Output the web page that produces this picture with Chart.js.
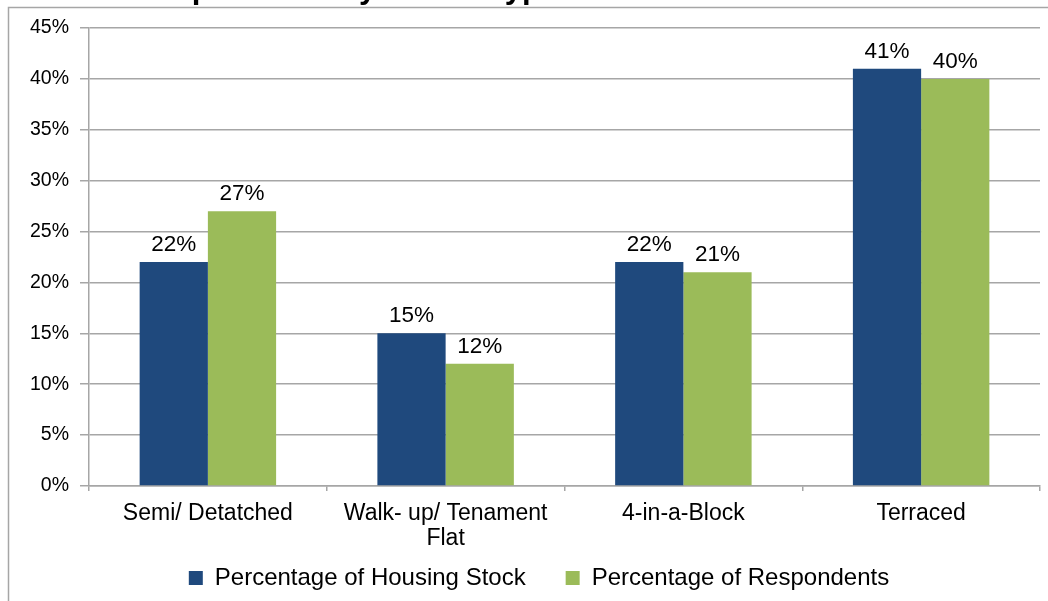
<!DOCTYPE html>
<html>
<head>
<meta charset="utf-8">
<script src="https://cdn.jsdelivr.net/npm/chart.js@4"></script>
<style>
  html, body { margin: 0; padding: 0; background: #fff; }
  #wrap { width: 1048px; height: 601px; position: relative; }
</style>
</head>
<body>
<div id="wrap"><canvas id="myChart" width="1048" height="601"></canvas></div>
<script>
var categories = ["Semi/ Detatched", ["Walk- up/ Tenament", "Flat"], "4-in-a-Block", "Terraced"];
var housingStock = [22, 15, 22, 41];
var respondents = [27, 12, 21, 40];
var seriesNames = ["Percentage of Housing Stock", "Percentage of Respondents"];
var titleText = "Respondents by House Type";

var gridGrey = '#a6a6a6';
var fontFamily = '"Liberation Sans", Arial, sans-serif';

// frame + cut-off title at the top
var framePlugin = {
  id: 'frame',
  beforeDraw: function(chart) {
    var c = chart.ctx;
    c.save();
    c.fillStyle = '#fff';
    c.fillRect(0, 0, chart.width, chart.height);
    c.strokeStyle = gridGrey;
    c.lineWidth = 1.5;
    c.beginPath();
    c.moveTo(chart.width, 7.5);
    c.lineTo(8.5, 7.5);
    c.lineTo(8.5, chart.height);
    c.stroke();
    c.fillStyle = '#000';
    c.font = 'bold 31px ' + fontFamily;
    c.textBaseline = 'alphabetic';
    c.fillText(titleText, 135, -2);
    c.restore();
  },
  // legend keeps a wide item gap; lift its top so the row sits near the bottom edge
  afterLayout: function(chart) {
    if (chart.legend) {
      chart.legend.top -= 24;
      chart.legend.left += 19;
      chart.legend.right += 19;
    }
  }
};

// value labels above each bar
var valueLabels = {
  id: 'valueLabels',
  afterDatasetsDraw: function(chart) {
    var c = chart.ctx;
    c.save();
    c.font = '22.5px ' + fontFamily;
    c.fillStyle = '#000';
    c.textAlign = 'center';
    c.textBaseline = 'alphabetic';
    chart.data.datasets.forEach(function(ds, i) {
      chart.getDatasetMeta(i).data.forEach(function(bar, j) {
        c.fillText(ds.data[j] + '%', bar.x, bar.y - 11);
      });
    });
    c.restore();
  }
};

var ctx = document.getElementById('myChart').getContext('2d');
var myChart = new Chart(ctx, {
  type: 'bar',
  data: {
    labels: categories,
    datasets: [{
      label: seriesNames[0],
      backgroundColor: '#1f497d',
      data: housingStock
    }, {
      label: seriesNames[1],
      backgroundColor: '#9bbb59',
      data: respondents
    }]
  },
  options: {
    responsive: false,
    animation: false,
    devicePixelRatio: 1,
    layout: { padding: { left: 0, right: 8, top: 28, bottom: 0 } },
    datasets: { bar: { categoryPercentage: 0.574, barPercentage: 1.0 } },
    scales: {
      x: {
        grid: { offset: true, drawOnChartArea: false, tickLength: 5, color: gridGrey, lineWidth: 1.5 },
        border: { color: gridGrey, width: 1.5 },
        ticks: { color: '#000', font: { family: fontFamily, size: 23, lineHeight: 1.05 }, padding: 11, maxRotation: 0, autoSkip: false },
        afterFit: function(scale) { scale.height = 64; }
      },
      y: {
        min: 0,
        max: 45,
        grid: { color: gridGrey, lineWidth: 1.5, tickLength: 9 },
        border: { color: gridGrey, width: 1.5 },
        ticks: {
          stepSize: 5,
          color: '#000',
          font: { family: fontFamily, size: 19.5 },
          padding: 11,
          callback: function(v) { return v + '%'; }
        },
        afterFit: function(scale) { scale.width = 89; }
      }
    },
    plugins: {
      legend: {
        position: 'bottom',
        maxHeight: 51,
        labels: {
          boxWidth: 14,
          boxHeight: 14,
          padding: 40,
          color: '#000',
          font: { family: fontFamily, size: 24 }
        }
      },
      tooltip: { enabled: false }
    }
  },
  plugins: [framePlugin, valueLabels]
});
</script>
</body>
</html>
